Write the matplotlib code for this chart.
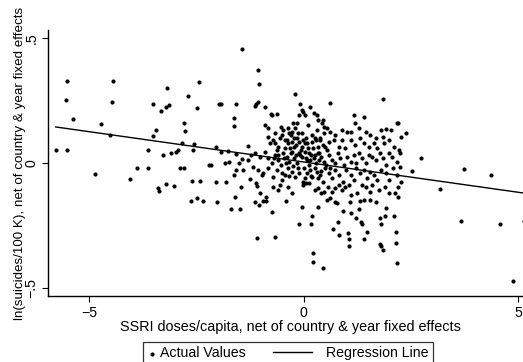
import numpy as np
import matplotlib
matplotlib.use("Agg")
import matplotlib.pyplot as plt
from matplotlib.legend_handler import HandlerLine2D

plt.rcParams['font.family'] = ['Liberation Sans', 'DejaVu Sans']

# scattered points away from the core
outer_x = [-5.78, -5.52, -5.55, -5.52, -5.37, -4.87, -4.73, -4.52, -4.44, -4.47,
           -4.04, -3.88, -3.63, -3.63, -3.51, -3.51, -3.45, -3.33, -3.28, -3.40,
           -3.37, -3.22, -3.18, -3.20, -3.13, -3.09, -3.03, -2.98, -2.94, -2.89,
           -2.79, -2.83, -2.80, -2.77, -2.71, -2.63, -2.60, -2.58, -2.55, -2.50,
           -2.48, -2.45, -2.41, -2.34, -2.22, -2.17, -2.04, -2.04, -2.02, -1.98,
           -1.92, -1.94, -1.83, -1.81, -1.77, -1.74, -1.69, -1.63, -1.63, -1.63,
           -1.59, -1.60, -1.57, -1.57, -1.52, -1.48, -1.47, -1.44, -1.42, -1.45,
           -1.31, -1.30, -1.26, -1.23, -1.18, -1.14, -1.11, -1.07, -1.07, -1.05,
           -1.09, -1.12, -1.08, -1.13, -1.05, -1.01, -0.97, -0.91, -0.94, -0.89,
           -0.87, -0.74, -0.67, -0.76, -0.63, -0.41, -0.27, -0.20, -0.11, -0.05,
           -0.09, -0.05, 0.16, 0.21, 0.21, 0.44, 0.19, 0.33, 0.60, 0.68,
           0.80, 0.81, 1.02, 1.05, 1.05, 0.91, 1.08, 1.11, 1.22, 1.33,
           1.36, 1.41, 1.47, 1.29, 1.30, 1.18, 1.41, 1.68, 1.77, 1.79,
           1.77, 1.80, 1.85, 1.84, 1.88, 1.91, 2.09, 2.14, 2.14, 2.16,
           2.13, 2.20, 2.20, 2.39, 2.51, 2.73, 3.17, 3.67, 3.73, 4.35,
           4.56, 4.87, 5.13]
outer_y = [0.052, 0.328, 0.253, 0.052, 0.174, -0.045, 0.157, 0.110, 0.328, 0.242,
           -0.063, -0.019, 0.051, -0.019, 0.237, 0.108, 0.133, 0.207, 0.033, -0.098,
           -0.110, -0.084, 0.301, 0.225, 0.230, 0.041, -0.090, 0.044, 0.051, -0.019,
           -0.019, 0.078, 0.158, 0.128, 0.269, -0.153, -0.073, 0.052, 0.077, -0.138,
           0.221, 0.322, -0.073, -0.153, -0.009, -0.009, 0.065, -0.076, -0.154, 0.234,
           0.234, 0.044, -0.001, -0.074, 0.049, 0.005, -0.182, -0.047, 0.148, 0.178,
           0.237, -0.134, 0.037, -0.028, -0.001, -0.182, -0.094, 0.017, -0.028, 0.457,
           0.068, 0.012, -0.065, 0.032, -0.015, 0.227, 0.237, 0.245, 0.372, 0.316,
           -0.301, -0.081, -0.090, -0.157, -0.166, -0.118, -0.048, 0.225, -0.150, -0.153,
           -0.134, -0.194, -0.295, 0.194, 0.194, -0.152, -0.118, 0.275, -0.245, -0.174,
           0.235, 0.211, -0.243, -0.358, -0.394, -0.418, -0.210, -0.174, 0.241, -0.262,
           -0.235, -0.287, -0.281, -0.303, -0.330, -0.193, -0.157, -0.198, -0.221, -0.234,
           -0.243, -0.303, -0.277, -0.185, -0.153, 0.193, 0.185, -0.157, -0.221, -0.243,
           -0.322, -0.331, -0.348, 0.255, -0.210, -0.181, -0.213, -0.277, -0.320, -0.398,
           -0.120, -0.137, 0.161, 0.121, -0.032, 0.019, -0.102, -0.231, -0.024, -0.048,
           -0.245, -0.473, -0.231]

# dense core around zero (estimated, row by row)
core_x = [-0.91, -0.83, -0.73, -0.53, -0.48, -0.38, -0.34, -0.28, -0.20, -0.16,
          -0.11, -0.01, 0.02, 0.15, 0.23, 0.30, 0.34, 0.42, 0.47, 0.54,
          0.62, 0.73, 0.89, 1.01, 1.09, 1.20, 1.28, 1.44, 1.55, 1.67,
          1.79, 1.91, 2.02, 2.18, 2.26, 1.84,
          -0.83, -0.71, -0.66, -0.59, -0.45, -0.36, -0.28, -0.23, -0.16, -0.11,
          -0.05, 0.03, 0.09, 0.19, 0.27, 0.33, 0.38, 0.50, 0.59, 0.70,
          0.81, 0.89, 0.97, 1.09, 1.20, 1.32, 1.40, 1.52, 1.63, 1.71,
          1.87, 1.98, 2.10, 2.22,
          -1.14, -1.02, -0.91, -0.83, -0.75, -0.67, -0.59, -0.53, -0.48, -0.40,
          -0.34, -0.28, -0.22, -0.16, -0.11, -0.05, 0.02, 0.07, 0.11, 0.17,
          0.23, 0.28, 0.34, 0.41, 0.46, 0.52, 0.58, 0.66, 0.73, 0.80,
          0.85, 0.93, 1.01, 1.09, 1.16, 1.22, 1.28, 1.36, 1.44, 1.52,
          1.59, 1.69, 1.77, 1.84, 1.91, 1.98, 2.06, 2.16, 2.23,
          -1.06, -0.95, -0.83, -0.71, -0.63, -0.52, -0.44, -0.36, -0.28, -0.20,
          -0.13, -0.01, 0.07, 0.15, 0.20, 0.30, 0.38, 0.44, 0.50, 0.58,
          0.66, 0.73, 0.83, 0.91, 0.98, 1.09, 1.16, 1.22, 1.32, 1.40,
          1.48, 1.55, 1.63, 1.71, 1.79, 1.91, 1.98, 2.08, 2.18, 2.24,
          -0.71, -0.61, -0.55, -0.36, -0.01, 0.05, 0.13, 0.27, 0.34, 0.41,
          0.46, 0.56, 0.66, 0.73, 0.81, 0.88, 0.95, 1.06, 1.11, 1.24,
          1.36, 1.45, 1.55, 1.59, 1.75, 1.89, 1.98, 2.20, 2.26,
          0.54, 0.62, 0.73, 0.77, 1.40, 1.55,
          -0.62, -0.45, -0.30, -0.18, -0.08, 0.05, 0.12, 0.22, 0.35, 0.45,
          -0.42, -0.25, 0.00, 0.25, 0.40, -0.70, -0.55, 0.55, 0.62, 0.10,
          -0.05, 0.30,
          -0.78, -0.66, -0.52, -0.40, -0.33, -0.22, -0.14, -0.03, 0.08, 0.18,
          0.28, 0.38, 0.48, -0.60, -0.46, -0.31, -0.19, -0.07, 0.04, 0.14,
          0.26, 0.36, -0.50, -0.35, -0.12, 0.02, 0.16, 0.32, -0.26, 0.44]
core_y = [0.152, 0.138, 0.191, 0.145, 0.132, 0.138, 0.118, 0.125, 0.138, 0.158,
          0.191, 0.205, 0.191, 0.225, 0.198, 0.191, 0.172, 0.158, 0.145, 0.138,
          0.125, 0.112, 0.132, 0.125, 0.125, 0.158, 0.138, 0.125, 0.112, 0.098,
          0.132, 0.134, 0.132, 0.158, 0.105, 0.105,
          0.105, 0.092, 0.078, 0.065, 0.092, 0.078, 0.085, 0.065, 0.098, 0.085,
          0.065, 0.078, 0.059, 0.085, 0.098, 0.065, 0.092, 0.065, 0.085, 0.092,
          0.065, 0.092, 0.059, 0.092, 0.072, 0.098, 0.078, 0.065, 0.078, 0.059,
          0.078, 0.092, 0.065, 0.052,
          0.039, 0.025, 0.045, 0.019, -0.001, 0.032, 0.012, -0.008, 0.039, 0.025,
          0.005, 0.045, 0.019, -0.001, 0.039, 0.025, 0.045, 0.012, -0.008, 0.032,
          0.019, -0.001, 0.039, 0.025, 0.005, -0.008, 0.032, 0.012, -0.001, 0.039,
          0.019, -0.008, 0.025, 0.005, 0.032, -0.001, 0.039, 0.019, -0.001, 0.032,
          0.025, 0.012, 0.039, 0.019, -0.008, 0.039, 0.025, 0.005, 0.039,
          -0.028, -0.041, -0.021, -0.055, -0.028, -0.068, -0.048, -0.021, -0.035, -0.055,
          -0.021, -0.074, -0.041, -0.028, -0.055, -0.035, -0.048, -0.074, -0.021, -0.041,
          -0.061, -0.028, -0.048, -0.074, -0.028, -0.048, -0.068, -0.021, -0.041, -0.028,
          -0.061, -0.035, -0.048, -0.068, -0.028, -0.041, -0.068, -0.021, -0.048, -0.015,
          -0.094, -0.108, -0.088, -0.094, -0.088, -0.081, -0.078, -0.108, -0.101, -0.121,
          -0.114, -0.094, -0.114, -0.101, -0.088, -0.108, -0.094, -0.088, -0.128, -0.121,
          -0.088, -0.094, -0.114, -0.088, -0.108, -0.094, -0.121, -0.094, -0.074,
          -0.148, -0.141, -0.154, -0.161, -0.148, -0.148,
          0.05, 0.06, 0.11, 0.07, 0.03, 0.10, 0.04, 0.06, 0.01, 0.07,
          0.00, -0.01, -0.02, -0.02, -0.03, 0.02, 0.10, 0.05, -0.02, 0.15,
          0.12, 0.13,
          0.08, 0.12, 0.11, 0.09, 0.06, 0.10, 0.12, 0.09, 0.08, 0.11,
          0.09, 0.10, 0.12, 0.03, 0.02, 0.04, 0.03, 0.05, 0.02, 0.01,
          0.03, 0.04, -0.04, -0.05, -0.04, -0.06, -0.05, -0.06, 0.16, 0.17]

# fitted regression line as drawn
reg_intercept = 0.004
reg_slope = -0.0242

ssri_x = np.array(outer_x + core_x)
suicide_y = np.array(outer_y + core_y)


class ShiftedLine(HandlerLine2D):
    # long line handle that reaches back into the column gap
    def create_artists(self, legend, orig_handle, xdescent, ydescent,
                       width, height, fontsize, trans):
        arts = super().create_artists(legend, orig_handle, xdescent, ydescent,
                                      width, height, fontsize, trans)
        x0 = -xdescent
        y_mid = np.asarray(arts[0].get_ydata())[0]
        arts[0].set_data([x0 + width - 35, x0 + width - 7], [y_mid, y_mid])
        return arts


fig = plt.figure(figsize=(5.23, 3.62), dpi=100)
ax = fig.add_axes([48 / 523, 1 - 296 / 362, 1 - 48 / 523 + 0.02, (296 - 30) / 362])

sc = ax.scatter(ssri_x, suicide_y, s=9, color='black', linewidths=0,
                label='Actual Values', zorder=3)
line_x = np.array([ssri_x.min(), ssri_x.max() + 0.2])
ln, = ax.plot(line_x, reg_intercept + reg_slope * line_x, color='black', lw=1.0,
              label='Regression Line', zorder=2)

ax.set_xlim(-5.96, 5.35)
ax.set_ylim(-0.531, 0.531)
ax.set_xticks([-5, 0, 5])
ax.set_xticklabels(['\u22125', '0', '5'])
ax.set_yticks([-0.5, 0, 0.5])
ax.set_yticklabels(['\u2212.5', '0', '.5'], rotation=90, va='center')
ax.tick_params(direction='out', length=4, width=0.8, labelsize=10.2, pad=3)

for side in ['top', 'right']:
    ax.spines[side].set_visible(False)
for side in ['left', 'bottom']:
    ax.spines[side].set_linewidth(1.0)

ax.set_xlabel('SSRI doses/capita, net of country & year fixed effects',
              fontsize=10.4, labelpad=0)
ax.set_ylabel('ln(suicides/100 K), net of country & year fixed effects',
              fontsize=9.6, labelpad=-1)

leg = fig.legend(handles=[sc, ln], loc='upper left',
                 bbox_to_anchor=(143 / 523, 1 - 342 / 362), borderaxespad=0,
                 ncol=2, fontsize=10.2, frameon=True, fancybox=False,
                 edgecolor='black', handlelength=0.6, handletextpad=0.3,
                 columnspacing=4.75, borderpad=0.3, scatterpoints=1,
                 handler_map={ln: ShiftedLine()})
leg.get_frame().set_linewidth(0.9)

fig.savefig('out.png', dpi=100)
